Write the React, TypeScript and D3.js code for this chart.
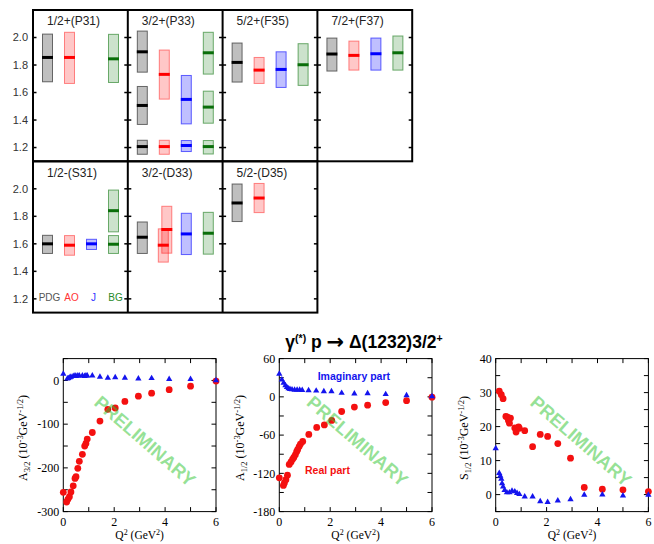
import React from "react";
import * as d3 from "d3";

// ---------- Top grid data ----------
const waves = ["1/2+(P31)", "3/2+(P33)", "5/2+(F35)", "7/2+(F37)", "1/2-(S31)", "3/2-(D33)", "5/2-(D35)"];
const analyses = ["PDG", "AO", "J", "BG"];
const massTicks = [1.2, 1.4, 1.6, 1.8, 2.0];
// wave, analysis, mass, low, high
const resonances: [string, string, number, number, number][] = [
  ["1/2+(P31)", "PDG", 1.855, 1.678, 2.025],
  ["1/2+(P31)", "AO", 1.855, 1.666, 2.038],
  ["1/2+(P31)", "BG", 1.845, 1.673, 2.023],
  ["3/2+(P33)", "PDG", 1.896, 1.748, 2.047],
  ["3/2+(P33)", "PDG", 1.506, 1.368, 1.644],
  ["3/2+(P33)", "PDG", 1.207, 1.151, 1.253],
  ["3/2+(P33)", "AO", 1.732, 1.552, 1.909],
  ["3/2+(P33)", "AO", 1.207, 1.151, 1.253],
  ["3/2+(P33)", "J", 1.55, 1.372, 1.724],
  ["3/2+(P33)", "J", 1.215, 1.171, 1.251],
  ["3/2+(P33)", "BG", 1.889, 1.734, 2.038],
  ["3/2+(P33)", "BG", 1.494, 1.377, 1.61],
  ["3/2+(P33)", "BG", 1.207, 1.153, 1.251],
  ["5/2+(F35)", "PDG", 1.819, 1.676, 1.96],
  ["5/2+(F35)", "AO", 1.763, 1.666, 1.855],
  ["5/2+(F35)", "J", 1.768, 1.637, 1.896],
  ["5/2+(F35)", "BG", 1.802, 1.652, 1.955],
  ["7/2+(F37)", "PDG", 1.88, 1.756, 1.996],
  ["7/2+(F37)", "AO", 1.87, 1.763, 1.974],
  ["7/2+(F37)", "J", 1.882, 1.763, 1.996],
  ["7/2+(F37)", "BG", 1.889, 1.763, 2.011],
  ["1/2-(S31)", "PDG", 1.6, 1.53, 1.662],
  ["1/2-(S31)", "AO", 1.59, 1.517, 1.66],
  ["1/2-(S31)", "J", 1.6, 1.559, 1.633],
  ["1/2-(S31)", "BG", 1.841, 1.687, 1.991],
  ["1/2-(S31)", "BG", 1.597, 1.53, 1.66],
  ["3/2-(D33)", "PDG", 1.648, 1.53, 1.759],
  ["3/2-(D33)", "AO", 1.59, 1.467, 1.709],
  ["3/2-(D33)", "AO", 1.704, 1.532, 1.873],
  ["3/2-(D33)", "J", 1.672, 1.522, 1.822],
  ["3/2-(D33)", "BG", 1.677, 1.525, 1.829],
  ["5/2-(D35)", "PDG", 1.897, 1.762, 2.035],
  ["5/2-(D35)", "AO", 1.933, 1.827, 2.039],
];

// ---------- Bottom plots data ----------
const a32RealQ2 = [0, 0.13, 0.18, 0.24, 0.3, 0.39, 0.46, 0.5, 0.57, 0.63, 0.75, 0.84, 0.89, 0.94, 1.14, 1.44, 1.75, 2.04, 2.42, 2.95, 3.47, 4.16, 5.0, 6.0];
const a32Real = [-256, -278, -272, -266, -255, -241, -224, -220, -201, -185, -169, -150, -144, -134, -119, -93, -66, -63, -48, -36, -29, -21, -13, -1.5];
const a32ImagQ2 = [0, 0.16, 0.2, 0.26, 0.3, 0.39, 0.46, 0.5, 0.57, 0.63, 0.75, 0.84, 0.89, 0.94, 1.14, 1.44, 1.75, 2.04, 2.42, 2.95, 3.47, 4.16, 5.0, 6.0];
const a32Imag = [15, 4, 5, 7, 8, 10, 11, 10, 11, 11, 11, 10, 11, 11, 11, 8, 6, 7, 6, 4, 5, 3, 3, 0];

const a12RealQ2 = [0, 0.16, 0.2, 0.26, 0.32, 0.39, 0.46, 0.52, 0.57, 0.63, 0.68, 0.72, 0.78, 0.83, 0.92, 1.16, 1.47, 1.77, 2.06, 2.45, 2.95, 3.47, 4.18, 5.0, 6.0];
const a12Real = [-127, -139, -135, -130, -123, -106, -102, -98, -95, -91, -86, -83, -78, -74, -70, -59, -48, -44, -37, -23, -16, -13, -9, -6, -0.5];
const a12ImagQ2 = [0, 0.1, 0.17, 0.24, 0.3, 0.36, 0.42, 0.5, 0.6, 0.7, 0.8, 0.9, 1.15, 1.45, 1.75, 2.05, 2.45, 2.95, 3.47, 4.18, 5.0, 6.0];
const a12Imag = [36, 27, 22, 18, 15, 13, 12, 11.5, 11, 11, 11, 10.5, 10, 9.5, 8.5, 8.5, 6, 5, 5.5, 4, 2.2, 0.6];

const s12RealQ2 = [0.14, 0.22, 0.29, 0.4, 0.46, 0.5, 0.54, 0.58, 0.75, 0.8, 0.9, 0.93, 1.14, 1.45, 1.75, 2.04, 2.44, 2.94, 3.48, 4.19, 5.0, 6.0];
const s12Real = [30.4, 29.4, 28.2, 23, 22.8, 21.8, 21, 22.5, 19.6, 18.4, 19.9, 19.5, 18.8, 14.1, 17.7, 17.1, 15.0, 10.7, 2.1, 1.6, 1.4, 0.9];
const s12ImagQ2 = [0, 0.14, 0.18, 0.22, 0.25, 0.29, 0.35, 0.44, 0.54, 0.64, 0.75, 0.84, 0.93, 1.14, 1.45, 1.75, 2.04, 2.44, 2.94, 3.48, 4.19, 5.0, 6.0];
const s12Imag = [13.6, 6.3, 5.5, 4.6, 3.3, 2.3, 1.3, 0.6, 0.6, 1.1, 0.9, 0.4, 0.1, -0.6, -0.6, -2, -2.2, -1.8, -1.4, -0.1, 0, -0.3, -0.1];

const xTicks = [0, 1, 2, 3, 4, 5, 6];
const xTickLabels = [0, 2, 4, 6];

const colors: Record<string, { fill: string; stroke: string; line: string; text: string }> = {
  PDG: { fill: "rgba(0,0,0,0.25)", stroke: "rgba(0,0,0,0.55)", line: "#000", text: "#555" },
  AO: { fill: "rgba(255,0,0,0.22)", stroke: "rgba(255,0,0,0.45)", line: "#f00", text: "#f33" },
  J: { fill: "rgba(0,0,255,0.25)", stroke: "rgba(0,0,255,0.6)", line: "#00f", text: "#33f" },
  BG: { fill: "rgba(0,110,0,0.2)", stroke: "rgba(0,110,0,0.55)", line: "#0a6e0a", text: "#2a8a2a" },
};

const SANS = "'Liberation Sans', Arial, 'DejaVu Sans', sans-serif";
const SERIF = "'Liberation Serif', 'Times New Roman', serif";

function Grid() {
  const gx0 = 33, gy0 = 10, cw = 94.8, ch = 151.3;
  const ym = d3.scaleLinear().domain([1.1, 2.2]).range([ch, 0]);
  const xa = d3.scalePoint<string>().domain(analyses).range([14.5, 80.5]);
  const cellPos = (i: number) => ({ x: gx0 + (i < 4 ? i : i - 4) * cw, y: gy0 + (i < 4 ? 0 : 1) * ch });

  // shift overlapping entries of the same wave/analysis slightly apart
  const shifts = resonances.map((r, i) => {
    const overlaps = resonances
      .map((o, j) => ({ o, j }))
      .filter(({ o }) => o[0] === r[0] && o[1] === r[1] && o[3] < r[4] && r[3] < o[4]);
    if (overlaps.length < 2) return 0;
    const k = overlaps.findIndex(({ j }) => j === i);
    return k === 0 ? -1 : 2.5;
  });

  return (
    <g>
      {waves.map((w, i) => {
        const p = cellPos(i);
        return (
          <g key={w} transform={`translate(${p.x},${p.y})`}>
            {massTicks.map((t) => (
              <g key={t}>
                <line x1={0} x2={3.5} y1={ym(t)} y2={ym(t)} stroke="#000" strokeWidth={1.5} />
                <line x1={cw - 3.5} x2={cw} y1={ym(t)} y2={ym(t)} stroke="#000" strokeWidth={1.5} />
              </g>
            ))}
            <text x={14} y={i < 4 ? 14.5 : 16} fontFamily={SANS} fontSize={12} fill="#222">{w}</text>
          </g>
        );
      })}
      {resonances.map((r, i) => {
        const p = cellPos(waves.indexOf(r[0]));
        const c = colors[r[1]];
        const cx = p.x + (xa(r[1]) as number) + shifts[i];
        return (
          <g key={i}>
            <rect x={cx - 5} y={p.y + ym(r[4])} width={10} height={ym(r[3]) - ym(r[4])} fill={c.fill} stroke={c.stroke} strokeWidth={1} />
            <line x1={cx - 5.5} x2={cx + 5.5} y1={p.y + ym(r[2])} y2={p.y + ym(r[2])} stroke={c.line} strokeWidth={3} />
          </g>
        );
      })}
      {[0, 1].map((row) =>
        massTicks.map((t) => (
          <text key={`${row}-${t}`} x={28} y={gy0 + row * ch + ym(t)} dy="0.35em" textAnchor="end" fontFamily={SANS} fontSize={11} fill="#333">
            {t.toFixed(1)}
          </text>
        ))
      )}
      {analyses.map((a) => (
        <text key={a} x={gx0 + (xa(a) as number) + 2} y={gy0 + ch + 139.5} textAnchor="middle" fontFamily={SANS} fontSize={10} fill={colors[a].text}>
          {a}
        </text>
      ))}
      <rect x={gx0} y={gy0} width={4 * cw} height={ch} fill="none" stroke="#000" strokeWidth={2} />
      {[1, 2, 3].map((c) => (
        <line key={c} x1={gx0 + c * cw} x2={gx0 + c * cw} y1={gy0} y2={gy0 + ch} stroke="#000" strokeWidth={2} />
      ))}
      <rect x={gx0} y={gy0 + ch} width={3 * cw} height={ch} fill="none" stroke="#000" strokeWidth={2} />
      {[1, 2].map((c) => (
        <line key={c} x1={gx0 + c * cw} x2={gx0 + c * cw} y1={gy0 + ch} y2={gy0 + 2 * ch} stroke="#000" strokeWidth={2} />
      ))}
    </g>
  );
}

type PlotCfg = {
  left: number;
  domain: [number, number];
  step: number;
  labelStep: number;
  sub: string;
  sym: string;
  labelOff: number;
  real: [number[], number[]];
  imag: [number[], number[]];
  wmX: number;
};

const plots: PlotCfg[] = [
  { left: 63.3, domain: [-300, 50], step: 50, labelStep: 100, sym: "A", sub: "3/2", labelOff: 36, real: [a32RealQ2, a32Real], imag: [a32ImagQ2, a32Imag], wmX: 145 },
  { left: 279.3, domain: [-180, 60], step: 30, labelStep: 60, sym: "A", sub: "1/2", labelOff: 35, real: [a12RealQ2, a12Real], imag: [a12ImagQ2, a12Imag], wmX: 357.5 },
  { left: 495.7, domain: [-5, 40], step: 5, labelStep: 10, sym: "S", sub: "1/2", labelOff: 28, real: [s12RealQ2, s12Real], imag: [s12ImagQ2, s12Imag], wmX: 581 },
];

function Plot({ cfg }: { cfg: PlotCfg }) {
  const top = 358.6, bottom = 511.6, width = 152.7;
  const x = d3.scaleLinear().domain([0, 6]).range([cfg.left, cfg.left + width]);
  const y = d3.scaleLinear().domain(cfg.domain).range([bottom, top]);
  const yt = d3.range(cfg.domain[0], cfg.domain[1] + 0.001, cfg.step);
  const tri = d3.symbol(d3.symbolTriangle, 17)() as string;
  const isLabel = (v: number) => Math.abs(v / cfg.labelStep - Math.round(v / cfg.labelStep)) < 1e-6;
  const tl = 4.5;
  const yLabelY = 438;
  return (
    <g>
      {xTicks.map((t) => (
        <g key={t}>
          <line x1={x(t)} x2={x(t)} y1={bottom} y2={bottom - tl} stroke="#000" />
          <line x1={x(t)} x2={x(t)} y1={top} y2={top + tl} stroke="#000" />
        </g>
      ))}
      {yt.map((t) => (
        <g key={t}>
          <line x1={cfg.left} x2={cfg.left + tl} y1={y(t)} y2={y(t)} stroke="#000" />
          <line x1={cfg.left + width - tl} x2={cfg.left + width} y1={y(t)} y2={y(t)} stroke="#000" />
        </g>
      ))}
      <rect x={cfg.left} y={top} width={width} height={bottom - top} fill="none" stroke="#000" strokeWidth={1} />
      {xTickLabels.map((t) => (
        <text key={t} x={x(t)} y={bottom + 14.5} textAnchor="middle" fontFamily={SERIF} fontSize={12} fill="#000">{t}</text>
      ))}
      {yt.filter(isLabel).map((t) => (
        <text key={t} x={cfg.left - 4} y={y(t)} dy="0.35em" textAnchor="end" fontFamily={SERIF} fontSize={12} fill="#000">{t}</text>
      ))}
      <text x={x(3)} y={539} textAnchor="middle" fontFamily={SERIF} fontSize={11.5} fill="#000">
        Q<tspan dy={-4} fontSize={8}>2</tspan>
        <tspan dy={4}> (GeV</tspan>
        <tspan dy={-4} fontSize={8}>2</tspan>
        <tspan dy={4}>)</tspan>
      </text>
      <text transform={`translate(${cfg.left - cfg.labelOff},${yLabelY}) rotate(-90)`} textAnchor="middle" fontFamily={SERIF} fontSize={12} fill="#000">
        {cfg.sym}
        <tspan dy={3} fontSize={8.5}>{cfg.sub}</tspan>
        <tspan dy={-3}> (10</tspan>
        <tspan dy={-4} fontSize={8.5}>-3</tspan>
        <tspan dy={4}>GeV</tspan>
        <tspan dy={-4} fontSize={8.5}>-1/2</tspan>
        <tspan dy={4}>)</tspan>
      </text>
      {cfg.real[0].map((q, i) => (
        <circle key={`r${i}`} cx={x(q)} cy={y(cfg.real[1][i])} r={3.4} fill="#f41010" />
      ))}
      {cfg.imag[0].map((q, i) => (
        <path key={`i${i}`} d={tri} transform={`translate(${x(q)},${y(cfg.imag[1][i])})`} fill="#1414ee" />
      ))}
      <text transform={`translate(${cfg.wmX},441) rotate(41)`} textAnchor="middle" dy="0.35em" fontFamily={SANS} fontWeight="bold" fontSize={18.5} fill="#2ec42e" fillOpacity={0.5}>
        PRELIMINARY
      </text>
    </g>
  );
}

export default function App() {
  return (
    <svg width={654} height={544} style={{ position: "absolute", left: 0, top: 0, background: "#fff" }}>
      <rect x={0} y={0} width={654} height={544} fill="#fff" />
      <Grid />
      <text x={364} y={348} textAnchor="middle" fontFamily={SANS} fontWeight="bold" fontSize={17.5} fill="#000">
        γ<tspan dy={-6.5} fontSize={10.5}>(*)</tspan>
        <tspan dy={6.5}> p </tspan>
        <tspan fontFamily="'DejaVu Sans', sans-serif" fontSize={21} dy={1}>→</tspan>
        <tspan dy={-1}> Δ(1232)3/2</tspan>
        <tspan dy={-6.5} fontSize={10.5}>+</tspan>
      </text>
      {plots.map((p, i) => (
        <Plot key={i} cfg={p} />
      ))}
      <text x={317.7} y={380} fontFamily={SANS} fontWeight="bold" fontSize={10.5} fill="#1414ee">Imaginary part</text>
      <text x={305} y={474} fontFamily={SANS} fontWeight="bold" fontSize={10.5} fill="#f41010">Real part</text>
    </svg>
  );
}
